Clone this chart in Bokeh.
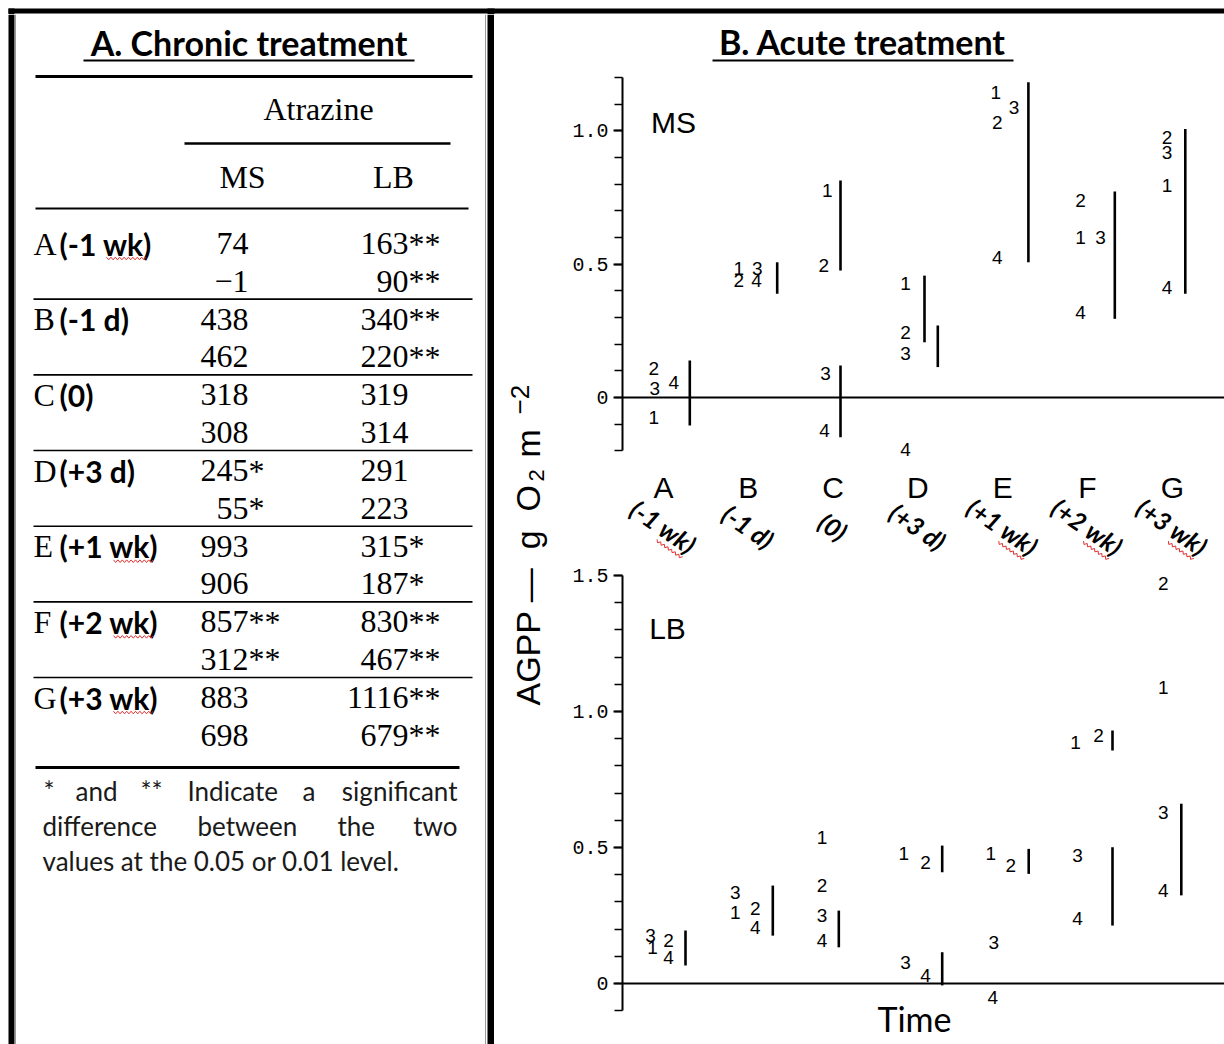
import math
from bokeh.plotting import figure
from bokeh.layouts import row, column
from bokeh.models import (Range1d, LinearAxis, SingleIntervalTicker,
                          CustomJSTickFormatter, Span, ColumnDataSource)
from bokeh.core.properties import value
from bokeh.embed import file_html
from bokeh.resources import INLINE

# ------------------------------------------------------------------ data
groups = ["A", "B", "C", "D", "E", "F", "G"]
periods = ["(-1 wk)", "(-1 d)", "(0)", "(+3 d)", "(+1 wk)", "(+2 wk)", "(+3 wk)"]

# A. Chronic treatment (table)
chronic_ms_first = [74, 438, 318, 245, 993, 857, 883]
chronic_ms_second = [-1, 462, 308, 55, 906, 312, 698]
chronic_ms_sig = ["", "", "", "*", "", "**", ""]
chronic_lb_first = [163, 340, 319, 291, 315, 830, 1116]
chronic_lb_second = [90, 220, 314, 223, 187, 467, 679]
chronic_lb_sig = ["**", "**", "", "", "*", "**", "**"]

# B. Acute treatment, MS panel: values of replicates 1-4 at times A-G
ms_rep1 = [-0.074, 0.483, 0.776, 0.426, 1.145, 0.601, 0.795]
ms_rep2 = [0.108, 0.439, 0.495, 0.245, 1.032, 0.739, 0.976]
ms_rep3 = [0.033, 0.483, 0.089, 0.164, 1.088, 0.601, 0.920]
ms_rep4 = [0.057, 0.439, -0.124, -0.195, 0.526, 0.320, 0.414]
ms_bar_group = [0, 1, 2, 2, 3, 3, 4, 5, 6]
ms_bar_low = [-0.105, 0.389, 0.476, -0.149, 0.207, 0.114, 0.507, 0.295, 0.389]
ms_bar_high = [0.139, 0.507, 0.814, 0.120, 0.457, 0.270, 1.182, 0.772, 1.007]

# LB panel
lb_rep1 = [0.133, 0.262, 0.538, 0.477, 0.477, 0.887, 1.089]
lb_rep2 = [0.158, 0.275, 0.360, 0.446, 0.434, 0.912, 1.469]
lb_rep3 = [0.176, 0.336, 0.250, 0.078, 0.152, 0.471, 0.630]
lb_rep4 = [0.097, 0.207, 0.158, 0.029, -0.050, 0.238, 0.342]
lb_bar_group = [0, 1, 2, 3, 3, 4, 5, 5, 6]
lb_bar_low = [0.066, 0.176, 0.133, 0.409, -0.007, 0.403, 0.857, 0.213, 0.324]
lb_bar_high = [0.195, 0.360, 0.268, 0.507, 0.115, 0.495, 0.930, 0.501, 0.661]

# ------------------------------------------------------------------ layout (pixels)
ms_label_dx = [
    [-9.7, -9.5, -5.9, -12.4, -7.0, -7.0, -5.3],
    [-9.7, -9.5, -9.3, -12.4, -5.3, -7.0, -5.3],
    [-8.7, 8.9, -7.6, -12.4, 11.3, 13.0, -5.3],
    [10.3, 8.2, -8.6, -12.4, -5.3, -7.0, -5.3],
]
ms_bar_dx = [26.3, 28.9, 7.4, 7.4, 6.6, 19.9, 25.7, 27.3, 13.0]
lb_label_dx = [
    [-11, -13, -11, -14, -12, -12, -9],
    [5, 7, -11, 7.6, 8, 11, -9],
    [-13, -13, -11, -12.4, -9, -10, -9],
    [5, 7, -11, 7.6, -10, -10, -9],
]
lb_bar_dx = [22, 24.5, 5.7, 24.3, 24.3, 26, 25, 25, 9]

W, H = 1224, 1044
TOP = 14
LEFT_W, STRIP_W = 494, 70
PLOT_W = W - LEFT_W - STRIP_W
MS_H = 563
AXIS_PX = 622
CAT0_PX, CAT_STEP = 663.0, 84.8
MS_ZERO, MS_UNIT = 397.0, 266.7
LB_ZERO, LB_UNIT = 983.0, 272.0
PERIOD_Y, PERIOD_ANGLE = 526.0, 0.6


def mx(px):
    return (px - CAT0_PX) / CAT_STEP


def my(py):
    return (MS_ZERO - py) / MS_UNIT


def ly(py):
    return (LB_ZERO - py) / LB_UNIT


SERIF = value("Liberation Serif")
SANS = value("Liberation Sans")
CAL = value("Lato")


def bare(fig):
    fig.min_border_left = 0
    fig.min_border_right = 0
    fig.min_border_top = 0
    fig.min_border_bottom = 0
    fig.outline_line_color = None
    fig.background_fill_color = "white"
    fig.border_fill_color = "white"
    return fig


def plain(width, height, xr, yr):
    return bare(figure(width=width, height=height, x_range=xr, y_range=yr,
                       output_backend="svg", toolbar_location=None,
                       x_axis_type=None, y_axis_type=None))


def squiggle(x0, x1, y, amp=1.3, step=2.2):
    xs, ys, k, x = [], [], 0, x0
    while x <= x1:
        xs.append(x)
        ys.append(y + (amp if k % 2 else -amp))
        x += step
        k += 1
    return xs, ys


# ------------------------------------------------------------------ top border strip
top = plain(W, TOP, Range1d(0, W), Range1d(TOP, 0))
top.segment(x0=[8, 11, 490.5], y0=[10.5, 8, 8], x1=[W, 11, 490.5], y1=[10.5, TOP, TOP],
            line_color="black", line_width=[5, 6, 7])

# ------------------------------------------------------------------ left: table
left = plain(LEFT_W, H - TOP, Range1d(0, LEFT_W), Range1d(H, TOP))
left.segment(x0=[11, 490.5], y0=[TOP, TOP], x1=[11, 490.5], y1=[H, H],
             line_color="black", line_width=[6, 7])
left.segment(x0=[15, 485], y0=[TOP, TOP], x1=[15, 485], y1=[H, H], line_color="#9a9a9a", line_width=1)

left.text(x=[248.5], y=[41.5], text=["A. Chronic treatment"], text_font=CAL, text_font_style="bold",
          text_font_size="34px", text_align="center", text_baseline="middle", text_color="black")
left.segment(x0=[83], y0=[60], x1=[414], y1=[60], line_color="black", line_width=2)

row_y1 = [244 + 75.67 * g for g in range(len(groups))]
row_y2 = [y + 37.5 for y in row_y1]

rules_x0 = [35, 184, 35] + [33] * (len(groups) - 1) + [35]
rules_x1 = [472, 450, 468] + [472] * (len(groups) - 1) + [459]
rules_y = [76, 143, 208] + [row_y1[g] - 21 for g in range(1, len(groups))] + [767]
rules_w = [3, 2.5, 2] + [1.6] * (len(groups) - 1) + [3]
left.segment(x0=rules_x0, y0=rules_y, x1=rules_x1, y1=rules_y, line_color="black", line_width=rules_w)

left.text(x=[318, 242, 393], y=[108.5, 176, 176], text=["Atrazine", "MS", "LB"], text_font=SERIF,
          text_font_size="32px", text_align="center", text_baseline="middle", text_color="black")


def fmt(v):
    return str(v).replace("-", "\u2212")


MS_RIGHT, LB_RIGHT, DY = 248, 408, -1
num_x, num_y, num_t = [], [], []
sig_x, sig_y, sig_t = [], [], []
for g in range(len(groups)):
    for yy, msv, lbv in ((row_y1[g], chronic_ms_first[g], chronic_lb_first[g]),
                         (row_y2[g], chronic_ms_second[g], chronic_lb_second[g])):
        num_x += [MS_RIGHT, LB_RIGHT]
        num_y += [yy + DY, yy + DY]
        num_t += [fmt(msv), fmt(lbv)]
        sig_x += [MS_RIGHT, LB_RIGHT]
        sig_y += [yy + DY, yy + DY]
        sig_t += [chronic_ms_sig[g], chronic_lb_sig[g]]
left.text(x=num_x, y=num_y, text=num_t, text_font=SERIF, text_font_size="32px",
          text_align="right", text_baseline="middle", text_color="black")
left.text(x=sig_x, y=sig_y, text=sig_t, text_font=SERIF, text_font_size="32px",
          text_align="left", text_baseline="middle", text_color="black")

left.text(x=[33] * len(groups), y=[y + DY for y in row_y1], text=groups, text_font=SERIF,
          text_font_size="32px", text_align="left", text_baseline="middle", text_color="black")
left.text(x=[59] * len(groups), y=[y + DY for y in row_y1], text=periods, text_font=CAL,
          text_font_style="bold", text_font_size="30px", text_align="left",
          text_baseline="middle", text_color="black")

# spell-check squiggles under "wk" (as in the reference screenshot)
sq_xs, sq_ys = [], []
for g, p in enumerate(periods):
    if "wk" in p:
        x0 = 106 if p.startswith("(-") else 113
        a, b = squiggle(x0, x0 + 40, row_y1[g] + 14)
        sq_xs.append(a)
        sq_ys.append(b)
left.multi_line(xs=sq_xs, ys=sq_ys, line_color="#e03030", line_width=1)

# footnote (justified)
fn_words = ["*", "and", "**", "Indicate", "a", "difference", "between", "the",
            "values at the 0.05 or 0.01 level."]
fn_x = [43, 75, 140, 187, 302, 42, 197, 337, 42]
fn_y = [790] * 5 + [825] * 3 + [860]
left.text(x=fn_x, y=fn_y, text=fn_words, text_font=CAL, text_font_size="26px",
          text_align="left", text_baseline="middle", text_color="#1a1a1a")
left.text(x=[457, 457], y=[790, 825], text=["significant", "two"], text_font=CAL,
          text_font_size="26px", text_align="right", text_baseline="middle", text_color="#1a1a1a")

# ------------------------------------------------------------------ strip with the y label
strip = plain(STRIP_W, H - TOP, Range1d(LEFT_W, LEFT_W + STRIP_W), Range1d(H, TOP))
strip.text(x=[527, 536, 527, 519], y=[705, 481, 457, 414],
           text=["AGPP \u2014\u00a0\u00a0g\u00a0\u00a0O", "2", "m", "\u22122"],
           text_font=SANS, text_font_size=["34px", "22px", "34px", "26px"],
           angle=math.pi / 2, text_align="left", text_baseline="middle", text_color="black")

# ------------------------------------------------------------------ plots
X0, X1 = mx(AXIS_PX), mx(W)


def plot_fig(height, y0, y1):
    f = plain(PLOT_W, height, Range1d(X0, X1), Range1d(y0, y1))
    f.min_border_left = AXIS_PX - LEFT_W - STRIP_W
    return f


def add_axis(f, lo, hi):
    ax = LinearAxis(bounds=(lo, hi), ticker=SingleIntervalTicker(interval=0.5, num_minor_ticks=5),
                    formatter=CustomJSTickFormatter(code="return tick == 0 ? '0' : tick.toFixed(1);"))
    ax.axis_line_width = 2
    ax.major_tick_line_width = 2
    ax.minor_tick_line_width = 1.6
    ax.major_tick_in = 0
    ax.major_tick_out = 9
    ax.minor_tick_in = 0
    ax.minor_tick_out = 8
    ax.major_label_standoff = 5
    ax.major_label_text_font = "Liberation Mono"
    ax.major_label_text_font_size = "20px"
    ax.major_label_text_color = "black"
    f.add_layout(ax, "left")
    f.add_layout(Span(location=0, dimension="width", line_color="black", line_width=2))


def add_points(f, reps, dxs, bar_group, bar_low, bar_high, bar_dx):
    xs, ys, ts, ds = [], [], [], []
    for r, (vals, offs) in enumerate(zip(reps, dxs), start=1):
        for g, (v, o) in enumerate(zip(vals, offs)):
            xs.append(g)
            ys.append(v)
            ts.append(str(r))
            ds.append(o)
    f.text(x="x", y="y", text="t", x_offset="dx",
           source=ColumnDataSource(dict(x=xs, y=ys, t=ts, dx=ds)),
           text_font=SANS, text_font_size="19px", text_align="center",
           text_baseline="middle", text_color="black")
    bx = [g + d / CAT_STEP for g, d in zip(bar_group, bar_dx)]
    f.segment(x0=bx, y0=bar_low, x1=bx, y1=bar_high, line_color="black", line_width=2.6)


ms = plot_fig(MS_H - TOP, my(MS_H), my(TOP))
add_axis(ms, -0.2, 1.2)
add_points(ms, [ms_rep1, ms_rep2, ms_rep3, ms_rep4], ms_label_dx,
           ms_bar_group, ms_bar_low, ms_bar_high, ms_bar_dx)
ms.text(x=[mx(862)], y=[my(41)], text=["B. Acute treatment"], text_font=CAL, text_font_style="bold",
        text_font_size="34px", text_align="center", text_baseline="middle", text_color="black")
ms.segment(x0=[mx(712)], y0=[my(60)], x1=[mx(1013)], y1=[my(60)], line_color="black", line_width=2)
ms.text(x=[mx(673)], y=[my(122)], text=["MS"], text_font=SANS, text_font_size="30px",
        text_align="center", text_baseline="middle", text_color="black")
cat_x = list(range(len(groups)))
ms.text(x=cat_x, y=[my(487)] * len(groups), text=groups, text_font=SANS, text_font_size="30px",
        text_align="center", text_baseline="middle", text_color="black")
ms.text(x=cat_x, y=[my(PERIOD_Y)] * len(groups), text=periods, text_font=CAL,
        text_font_style="bold italic", text_font_size="25px", angle=-PERIOD_ANGLE,
        text_align="center", text_baseline="middle", text_color="black")

# spell-check squiggles under the rotated "wk"
ux, uy = math.cos(PERIOD_ANGLE), math.sin(PERIOD_ANGLE)
nx, ny = -uy, ux
rq_xs, rq_ys = [], []
for g, p in enumerate(periods):
    if "wk" in p:
        cx = CAT0_PX + CAT_STEP * g
        t0 = 2 if p.startswith("(-") else 5
        xs_, ys_ = [], []
        k, t = 0, t0
        while t <= t0 + 32:
            off = 15.5 + (1.3 if k % 2 else -1.3)
            xs_.append(mx(cx + ux * t + nx * off))
            ys_.append(my(PERIOD_Y + uy * t + ny * off))
            t += 2.2
            k += 1
        rq_xs.append(xs_)
        rq_ys.append(ys_)
ms.multi_line(xs=rq_xs, ys=rq_ys, line_color="#e03030", line_width=1)

lb = plot_fig(H - MS_H, ly(H), ly(MS_H))
add_axis(lb, -0.1, 1.5)
add_points(lb, [lb_rep1, lb_rep2, lb_rep3, lb_rep4], lb_label_dx,
           lb_bar_group, lb_bar_low, lb_bar_high, lb_bar_dx)
lb.text(x=[mx(667)], y=[ly(628)], text=["LB"], text_font=SANS, text_font_size="30px",
        text_align="center", text_baseline="middle", text_color="black")
lb.text(x=[mx(914)], y=[ly(1018)], text=["Time"], text_font=CAL, text_font_size="34px",
        text_align="center", text_baseline="middle", text_color="black")

page = column(top, row(left, strip, column(ms, lb, spacing=0), spacing=0), spacing=0)
open("out.html", "w").write(file_html(page, INLINE, title="Chronic and acute treatment"))
